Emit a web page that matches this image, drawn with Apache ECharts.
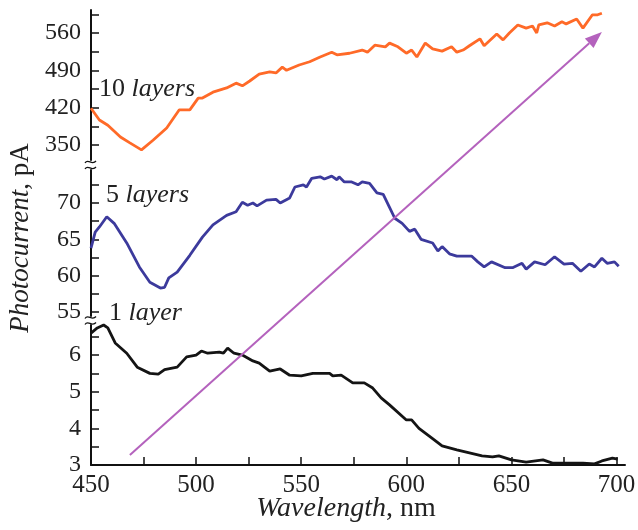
<!DOCTYPE html>
<html>
<head>
<meta charset="utf-8">
<script src="https://cdn.jsdelivr.net/npm/echarts@6/dist/echarts.min.js"></script>
<style>html,body{margin:0;padding:0;background:#fff}#c{width:638px;height:530px}</style>
</head>
<body>
<div id="c"></div>
<script>
// ---- data ----
const wl10 = [450,454,458,464,468.5,474,479.5,486,492,497,501,503,508,514.5,519,522,525.5,530,535,538,541,543,549,554,559,564.5,567,573,579,581.5,585,590,592,596,600,602.5,605,609,612.5,617,621.5,624,627,630,635,637,643,646,649,653,657,660,662,663,667,670.5,674,676,681,684,688.5,691,693];
const pc10 = [419,397,387,365,354,341,359,382,416,416,438,438,449,457,466,461,470,483,487,485,496,490,500,506,515,524,519,522,528,524,537,534,541,534,522,528,515,541,530,526,534,524,528,536,549,536,558,547,560,575,569,573,560,575,579,573,581,577,586,569,594,594,597];

const wl5 = [450,452,454,457.5,461,467,473,478,483,485,487,491,497,503,508,514.5,519,522,524.5,527,529,533.5,538,540,544.5,547,551,552.5,555,559,561,564.5,567,568,570.5,574,577,579,582.5,586,589,592,594.5,598,601.5,604,607,612.5,615,617,620.5,624,631,634,637,640.5,647,650.5,655,657,661,666,670.5,675,679,683,687,689.5,693,695.5,699,701];
const pc5 = [63.8,66,66.7,68.1,67.2,64.5,61.2,59.1,58.3,58.4,59.7,60.5,62.8,65.3,67,68.3,68.8,70.1,69.7,70,69.6,70.4,70.5,70,70.7,72.2,72.5,72.2,73.4,73.6,73.3,73.7,73.2,73.6,72.9,72.9,72.5,72.9,72.7,71.4,71.2,69.4,67.9,67.2,66.1,66.4,65,64.5,63.4,64,63,62.7,62.7,61.9,61.2,61.9,61.1,61.1,61.7,60.9,61.9,61.5,62.6,61.6,61.7,60.6,61.6,61.2,62.4,61.7,61.9,61.3];

const wl1 = [450,453,456,458,461.5,467,472,478,482,485,491,495.5,500,502.5,505.5,511,513,515,518,522,527,530,535,540,544.5,550,555.5,559,563.5,565,569,574.5,580,584,588,592,600,602.5,606,612,617,624,630,636,641,644,650,657,665,669.5,676,684,689.5,693,698,700.5];
const pc1 = [6.6,6.74,6.82,6.74,6.33,6.05,5.67,5.5,5.48,5.6,5.67,5.95,6.0,6.11,6.05,6.08,6.05,6.19,6.05,6.0,5.84,5.78,5.56,5.62,5.45,5.43,5.5,5.5,5.5,5.43,5.45,5.24,5.24,5.1,4.83,4.64,4.23,4.23,4.0,3.74,3.52,3.41,3.33,3.25,3.22,3.25,3.14,3.08,3.14,3.05,3.05,3.05,3.03,3.11,3.19,3.16];

const xTicks = [450,475,500,525,550,575,600,625,650,675,700];
const xLabels = [450,500,550,600,650,700];
const yTicksTop = [350,385,420,455,490,525,560,595];
const yLabelsTop = [350,420,490,560];
const yTicksMid = [55,57.5,60,62.5,65,67.5,70,72.5];
const yLabelsMid = [55,60,65,70];
const yTicksBot = [3,3.5,4,4.5,5,5.5,6,6.5];
const yLabelsBot = [3,4,5,6];

const arrowStart = [468.5, 3.27];   // bottom panel coords
const arrowEnd = [693, 562];        // top panel coords

// ---- layout ----
const FONT = '"Liberation Serif", "Times New Roman", serif';
const L = 91, R = 13;
const G = [
  {top: 10, height: 150},
  {top: 170, height: 146},
  {top: 325, height: 140}
];
const yRanges = [[322, 603], [54.45, 74.54], [3, 6.82]];
const colors = ['#ff6a28', '#3c3a9c', '#141414'];

const zip = (a, b) => a.map((v, i) => [v, b[i]]);

function yAxis(i, ticks, labels) {
  return {
    type: 'value', gridIndex: i, min: yRanges[i][0], max: yRanges[i][1],
    axisLine: {show: true, lineStyle: {color: '#111', width: 2}},
    axisTick: {show: true, inside: true, length: 8, customValues: ticks, lineStyle: {color: '#111', width: 1.5}},
    axisLabel: {show: true, customValues: labels, margin: 10, color: '#222', fontFamily: FONT, fontSize: 24},
    splitLine: {show: false}
  };
}
function xAxis(i, show) {
  return {
    type: 'value', gridIndex: i, min: 450, max: 704, show: show,
    axisLine: {show: true, onZero: false, lineStyle: {color: '#111', width: 2}},
    axisTick: {show: true, inside: true, length: 8, customValues: xTicks, lineStyle: {color: '#111', width: 1.5}},
    axisLabel: {show: true, customValues: xLabels, margin: 8, color: '#222', fontFamily: FONT, fontSize: 25},
    splitLine: {show: false}
  };
}

const chart = echarts.init(document.getElementById('c'), null, {renderer: 'canvas'});
const option = {
  animation: false,
  backgroundColor: '#fff',
  grid: G.map(g => ({left: L, right: R, top: g.top, height: g.height, outerBoundsMode: 'none', containLabel: false})),
  xAxis: [xAxis(0, false), xAxis(1, false), xAxis(2, true)],
  yAxis: [yAxis(0, yTicksTop, yLabelsTop), yAxis(1, yTicksMid, yLabelsMid), yAxis(2, yTicksBot, yLabelsBot)],
  series: [
    {type: 'line', xAxisIndex: 0, yAxisIndex: 0, data: zip(wl10, pc10), showSymbol: false, clip: false, lineStyle: {color: colors[0], width: 2.8}},
    {type: 'line', xAxisIndex: 1, yAxisIndex: 1, data: zip(wl5, pc5), showSymbol: false, clip: false, lineStyle: {color: colors[1], width: 2.8}},
    {type: 'line', xAxisIndex: 2, yAxisIndex: 2, data: zip(wl1, pc1), showSymbol: false, clip: false, lineStyle: {color: colors[2], width: 2.8}}
  ]
};
chart.setOption(option);

// ---- annotations ----
const p0 = chart.convertToPixel({gridIndex: 2}, arrowStart);
const p1 = chart.convertToPixel({gridIndex: 0}, arrowEnd);
const dx = p1[0] - p0[0], dy = p1[1] - p0[1];
const len = Math.hypot(dx, dy), ux = dx / len, uy = dy / len;
const headL = 17, headW = 6.5;
const bx = p1[0] - ux * headL, by = p1[1] - uy * headL;
const arrowColor = '#b462bd';

function label(text, x, y, size) {
  return {
    type: 'text', x: x, y: y, z: 100,
    style: {
      text: text,
      rich: {
        r: {fontFamily: FONT, fontSize: size, fill: '#222'},
        i: {fontFamily: FONT, fontSize: size, fontStyle: 'italic', fill: '#222'}
      },
      align: 'left', verticalAlign: 'middle'
    }
  };
}
function wave(y) {
  return {
    type: 'bezierCurve', z: 100,
    shape: {x1: 85, y1: y + 1, cpx1: 88, cpy1: y - 4, cpx2: 92, cpy2: y + 4, x2: 96, y2: y - 1},
    style: {fill: 'none', stroke: '#111', lineWidth: 1.3}
  };
}
const gap1 = (G[0].top + G[0].height + G[1].top) / 2;
const gap2 = (G[1].top + G[1].height + G[2].top) / 2;

chart.setOption({
  graphic: [
    {type: 'line', z: 50, shape: {x1: p0[0], y1: p0[1], x2: bx, y2: by}, style: {stroke: arrowColor, lineWidth: 2}},
    {type: 'polygon', z: 50, shape: {points: [
      [p1[0], p1[1]],
      [bx - uy * headW, by + ux * headW],
      [bx + uy * headW, by - ux * headW]
    ]}, style: {fill: arrowColor}},
    wave(gap1 - 3), wave(gap1 + 3), wave(gap2 - 3), wave(gap2 + 3),
    label('{r|10 }{i|layers}', 99, 89, 26),
    label('{r|5 }{i|layers}', 106, 195, 26),
    label('{r|1 }{i|layer}', 109, 313, 26),
    {type: 'text', x: 346, y: 509, style: {
      text: '{i|Wavelength}{r|, nm}',
      rich: {
        r: {fontFamily: FONT, fontSize: 28, fill: '#222'},
        i: {fontFamily: FONT, fontSize: 28, fontStyle: 'italic', fill: '#222'}
      },
      align: 'center', verticalAlign: 'middle'}},
    {type: 'text', x: 21, y: 238, rotation: Math.PI / 2, style: {
      text: '{i|Photocurrent}{r|, pA}',
      rich: {
        r: {fontFamily: FONT, fontSize: 27, fill: '#222'},
        i: {fontFamily: FONT, fontSize: 27, fontStyle: 'italic', fill: '#222'}
      },
      align: 'center', verticalAlign: 'middle'}}
  ]
});
</script>
</body>
</html>
